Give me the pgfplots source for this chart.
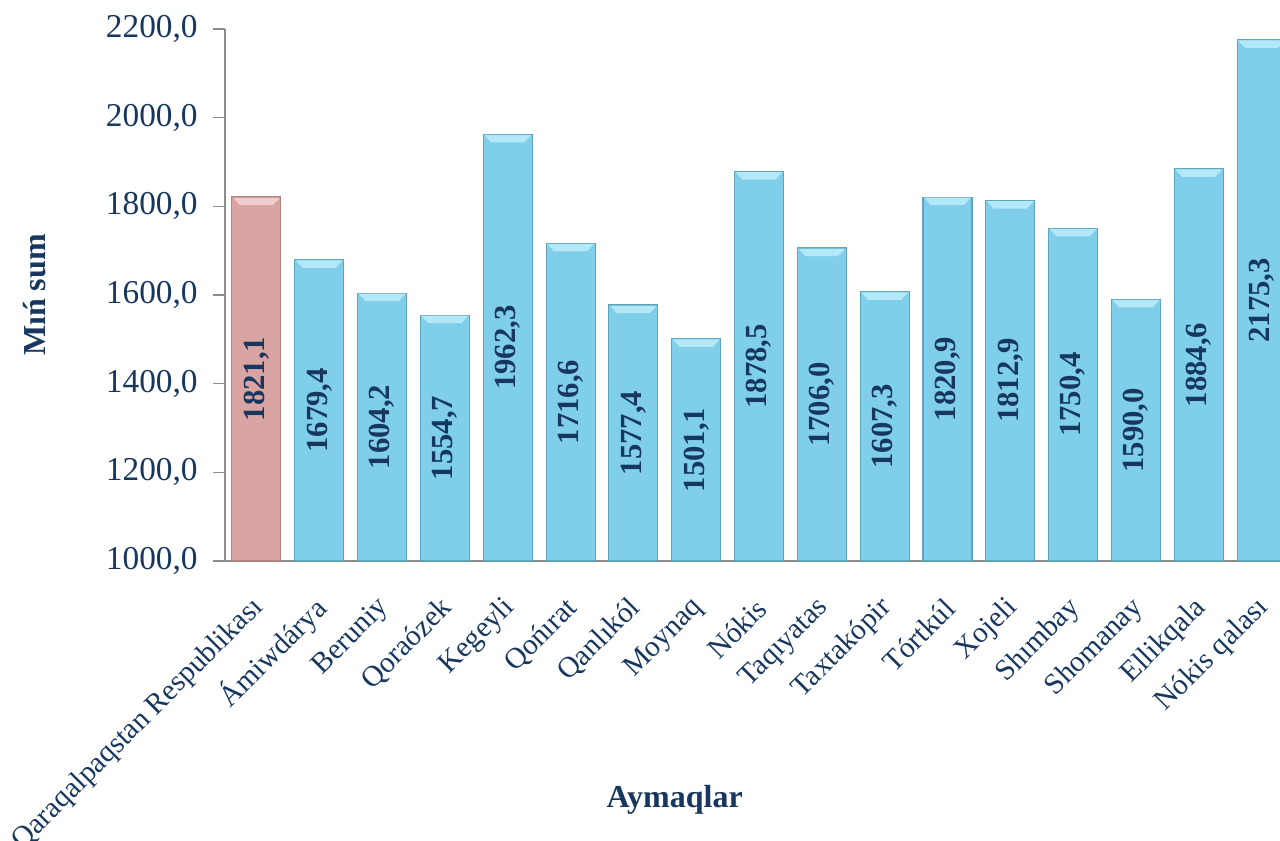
\documentclass[border=0pt]{standalone}
\usepackage{pgfplots}
\pgfplotsset{compat=1.18}
\usepackage{pgfplotstable}
\usepackage{fontspec}
\setmainfont{Liberation Serif}
\definecolor{navy}{RGB}{23,55,94}
\definecolor{barblue}{RGB}{127,207,234}
\definecolor{barblueedge}{RGB}{95,165,190}
\definecolor{capblue}{RGB}{178,232,248}
\definecolor{barpink}{RGB}{217,165,164}
\definecolor{barpinkedge}{RGB}{180,130,129}
\definecolor{cappink}{RGB}{240,205,205}
\definecolor{axisgrey}{RGB}{140,140,140}

\pgfdeclareplotmark{barcap}{%
  \pgfpathmoveto{\pgfpoint{-17.6pt}{-0.4pt}}%
  \pgfpathlineto{\pgfpoint{17.6pt}{-0.4pt}}%
  \pgfpathlineto{\pgfpoint{12.5pt}{-6pt}}%
  \pgfpathlineto{\pgfpoint{-12.5pt}{-6pt}}%
  \pgfpathclose\pgfusepathqfill}

\pgfplotstableread{
x v
0 1821.1
}\rep
\pgfplotstableread{
x v
1 1679.4
2 1604.2
3 1554.7
4 1962.3
5 1716.6
6 1577.4
7 1501.1
8 1878.5
9 1706.0
10 1607.3
11 1820.9
12 1812.9
13 1750.4
14 1590.0
15 1884.6
16 2175.3
}\dist
\pgfplotstableread{
x v
0 1821.1
1 1679.4
2 1604.2
3 1554.7
4 1962.3
5 1716.6
6 1577.4
7 1501.1
8 1878.5
9 1706.0
10 1607.3
11 1820.9
12 1812.9
13 1750.4
14 1590.0
15 1884.6
16 2175.3
}\all

\begin{document}
\begin{tikzpicture}
\begin{axis}[
  at={(168.75pt,209.25pt)}, anchor=south west,
  scale only axis, width=801pt, height=399pt,
  xmin=-0.5, xmax=16.5, ymin=1000, ymax=2200,
  axis x line*=bottom, axis y line*=left,
  axis line style={axisgrey, line width=0.8pt},
  tick align=outside,
  ytick={1000,1200,...,2200},
  major tick length=9pt,
  y tick style={axisgrey, line width=0.8pt},
  xtick={0,...,16},
  x tick style={draw=none},
  minor xtick={-0.5,0.5,...,16.5},
  minor x tick style={axisgrey, line width=0.8pt},
  minor tick length=7pt,
  xticklabels={Qaraqalpaqstan Respublikası, Ámiwdárya, Beruniy, Qoraózek, Kegeyli, Qońırat, Qanlıkól, Moynaq, Nókis, Taqıyatas, Taxtakópir, Tórtkúl, Xojeli, Shımbay, Shomanay, Ellikqala, Nókis qalası},
  xticklabel style={xshift=2pt, yshift=-23pt, rotate=45, anchor=east, inner sep=0pt, font=\fontsize{22}{26}\selectfont, text=navy},
  yticklabel style={font=\fontsize{25}{29}\selectfont, text=navy, xshift=-8pt},
  y tick label style={/pgf/number format/.cd, fixed, fixed zerofill, precision=1, use comma, 1000 sep={}, assume math mode=true},
  ylabel={\textbf{Mıń sum}},
  ylabel style={at={(axis description cs:-0.178,0.5)}, anchor=center, font=\fontsize{24}{28}\selectfont, text=navy},
  xlabel={\textbf{Aymaqlar}},
  xlabel style={at={(axis description cs:0.421,-0.449)}, anchor=center, font=\fontsize{24}{28}\selectfont, text=navy},
  clip=true,
]
\addplot[ybar, bar width=36.75pt, bar shift=0pt, fill=barpink, draw=barpinkedge, line width=0.8pt] table[x=x, y=v] {\rep};
\addplot[ybar, bar width=36.75pt, bar shift=0pt, fill=barblue, draw=barblueedge, line width=0.8pt] table[x=x, y=v] {\dist};
\addplot[only marks, mark=barcap, mark options={fill=cappink, draw=none}] table[x=x, y=v] {\rep};
\addplot[only marks, mark=barcap, mark options={fill=capblue, draw=none}] table[x=x, y=v] {\dist};
\addplot[draw=none, mark=none, nodes near coords, point meta=\thisrow{v},
  nodes near coords style={rotate=90, anchor=center, font=\fontsize{23}{27}\selectfont\bfseries, text=navy,
    /pgf/number format/.cd, fixed, fixed zerofill, precision=1, use comma, 1000 sep={}, assume math mode=true}]
  table[x=x, y expr={(\thisrow{v}+1000)/2}] {\all};
\end{axis}
\pgfresetboundingbox
\useasboundingbox (0,0) rectangle (960pt,630pt);
\end{tikzpicture}
\end{document}
